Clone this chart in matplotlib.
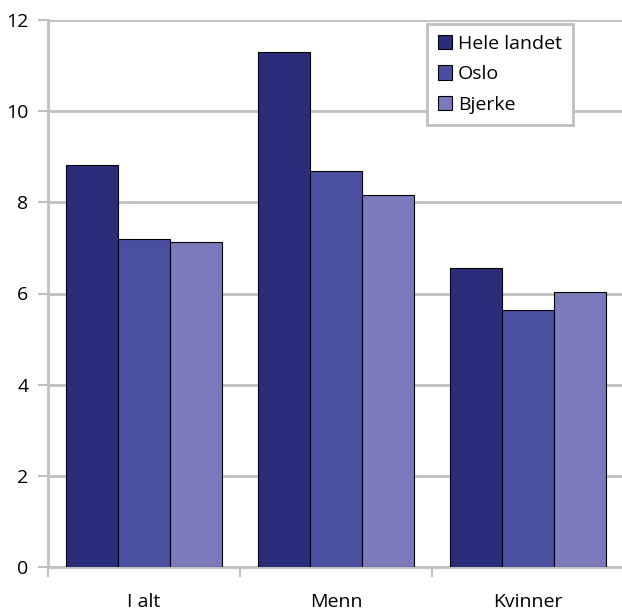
import matplotlib.pyplot as plt
import numpy as np

plt.rcParams['font.family'] = ['Open Sans', 'DejaVu Sans']

categories = ['I alt', 'Menn', 'Kvinner']
series = ['Hele landet', 'Oslo', 'Bjerke']
hele_landet = [8.82, 11.30, 6.57]
oslo = [7.20, 8.69, 5.64]
bjerke = [7.12, 8.15, 6.03]
colors = ['#2a2d7a', '#4b4fa0', '#7b7aba']

fig = plt.figure(figsize=(6.22, 6.12), dpi=100)
ax = fig.add_axes([48 / 622, 45 / 612, 576 / 622, 547 / 612])

x = np.arange(len(categories))
w = 0.271
for i, (vals, name) in enumerate(zip([hele_landet, oslo, bjerke], series)):
    ax.bar(x + (i - 1) * w, vals, width=w, color=colors[i], edgecolor='black',
           linewidth=0.8, label=name, zorder=3)

grid = '#c0c0c0'
ax.set_ylim(0, 12)
ax.set_yticks(range(0, 13, 2))
ax.set_xlim(-0.5, 2.5)
ax.set_xticks(x)
ax.set_xticklabels(categories)
ax.set_xticks([-0.5, 0.5, 1.5, 2.5], minor=True)
ax.tick_params(axis='x', which='major', length=0, pad=19, labelsize=14)
ax.tick_params(axis='x', which='minor', length=7, width=1.5, color=grid)
ax.tick_params(axis='y', length=7, width=1.5, color=grid, labelsize=14, pad=7)
ax.yaxis.grid(True, color=grid, linewidth=2, zorder=0)
for s in ['top', 'right']:
    ax.spines[s].set_visible(False)
for s in ['left', 'bottom']:
    ax.spines[s].set_color(grid)
    ax.spines[s].set_linewidth(2)

leg = ax.legend(loc='upper left', bbox_to_anchor=(379 / 576, 1 - 4 / 547),
                borderaxespad=0, fontsize=14, fancybox=False, framealpha=1,
                handlelength=0.75, handleheight=0.75, handletextpad=0.3,
                borderpad=0.55, labelspacing=0.65)
leg.get_frame().set_edgecolor(grid)
leg.get_frame().set_linewidth(2)

plt.savefig('out.png', dpi=100)
